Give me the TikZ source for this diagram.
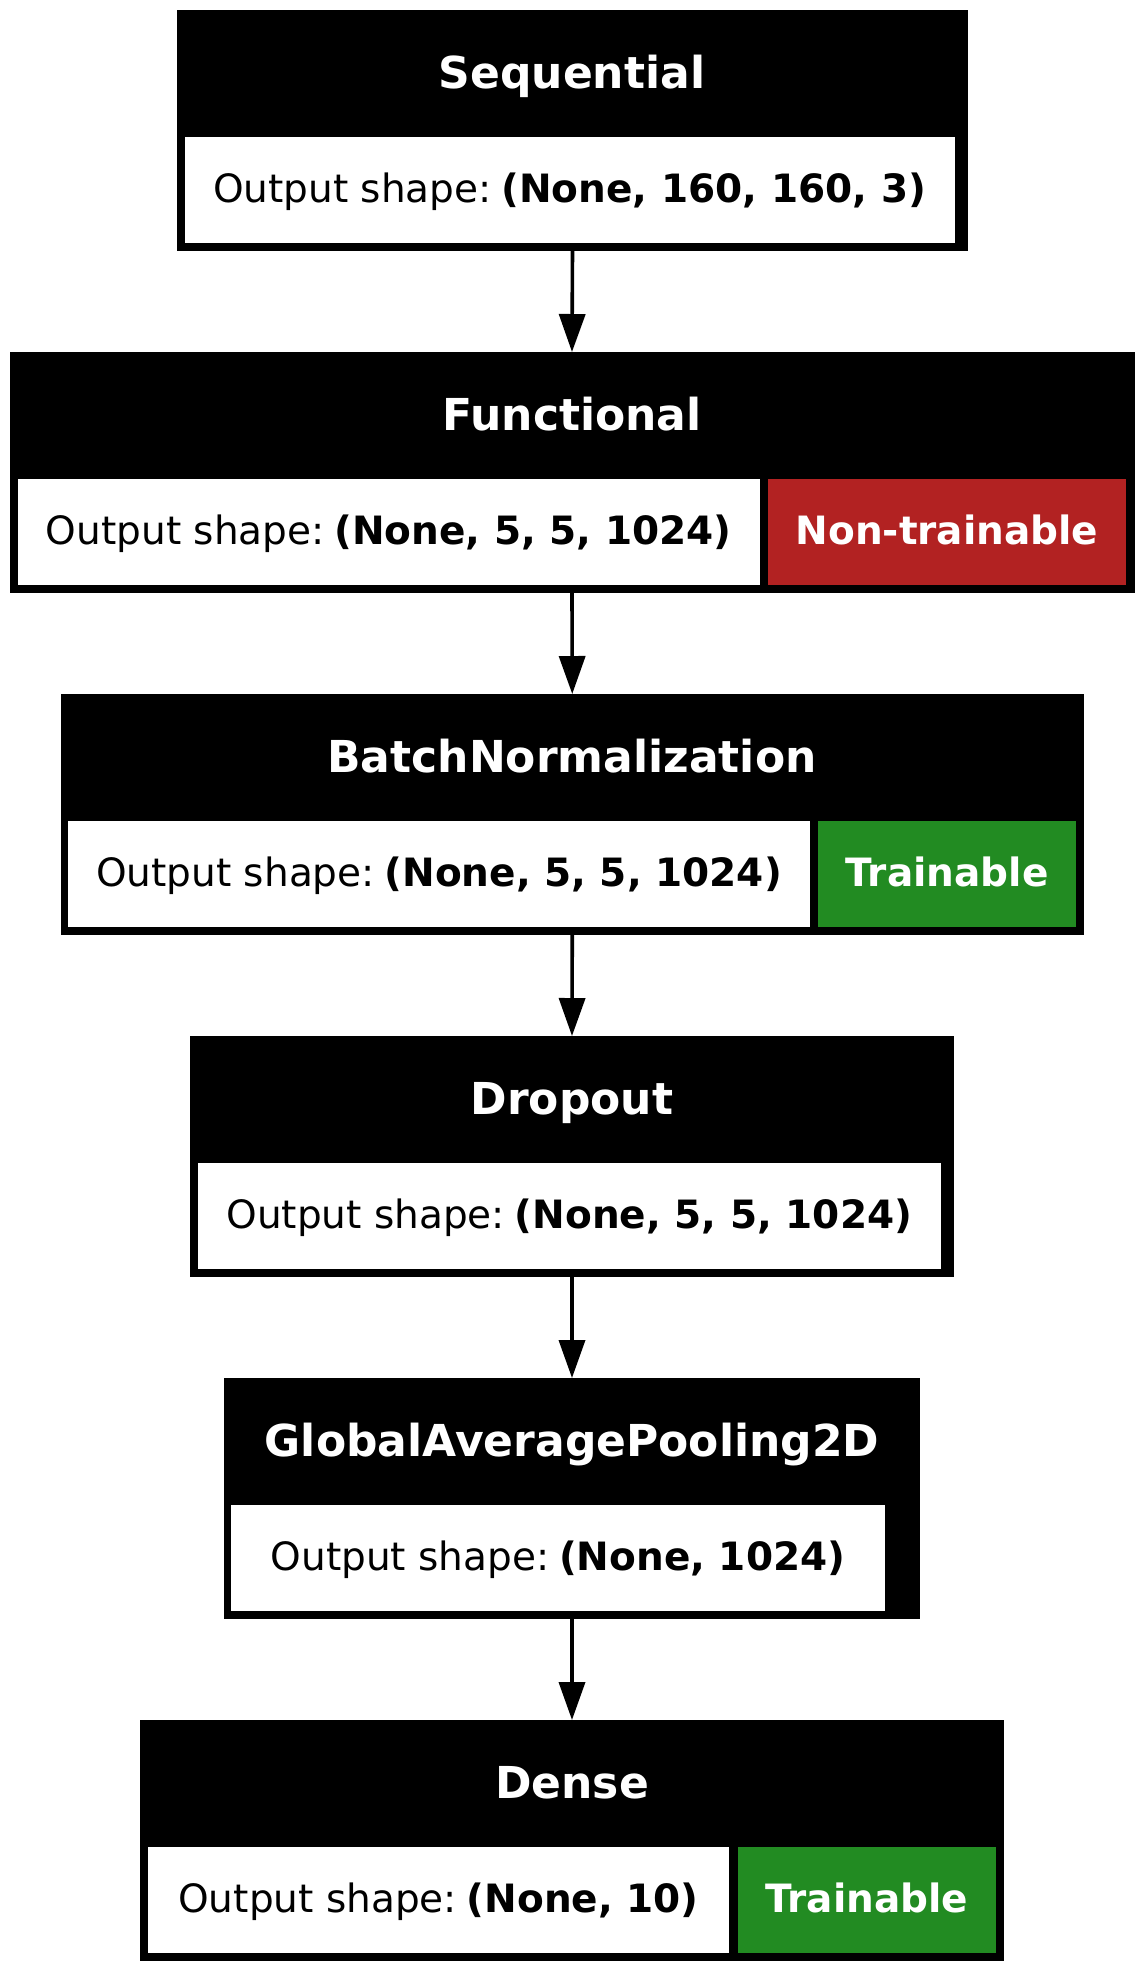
\documentclass[tikz,border=0pt]{standalone}
\usepackage{fontspec}
\setmainfont{DejaVu Sans}
\usetikzlibrary{arrows.meta}

\definecolor{frozenred}{HTML}{B22222}
\definecolor{traingreen}{HTML}{228B22}

\begin{document}
\begin{tikzpicture}[
    x=0.5pt, y=-0.5pt,
    layer/.style={fill=black, inner sep=0pt, outer sep=0pt, anchor=north west, minimum height=120.5pt},
    layername/.style={text=white, anchor=base, inner sep=0pt, font=\fontsize{22}{26}\selectfont\bfseries},
    outcell/.style={fill=white, inner sep=0pt, outer sep=0pt, anchor=north west, minimum height=53pt,
        text height=12pt, text depth=0pt, font=\fontsize{19.5}{23}\selectfont},
    trainable/.style={outcell, fill=traingreen, text=white, font=\fontsize{19.5}{23}\selectfont\bfseries},
    frozen/.style={outcell, fill=frozenred, text=white, font=\fontsize{19.5}{23}\selectfont\bfseries},
    flow/.style={-{Triangle[length=19pt, width=13pt]}, line width=1.8pt}
]
\useasboundingbox (0,0) rectangle (1144,1972);

% Layers
\node[layer, minimum width=395.5pt] (sequential) at (177,10) {};
\node[layername] (sequentialname) at (572,88) {Sequential};
\node[outcell, minimum width=385pt] (sequentialout) at (184.5,137) {Output shape:\hspace{0.25em}\textbf{(None, 160, 160, 3)}};

\node[layer, minimum width=562.5pt] (functional) at (9.5,352) {};
\node[layername] (functionalname) at (572,430) {Functional};
\node[outcell, minimum width=371.25pt] (functionalout) at (17.5,479) {Output shape:\hspace{0.25em}\textbf{(None, 5, 5, 1024)}};
\node[frozen, minimum width=179pt] (functionaltrain) at (768,479) {Non-trainable};

\node[layer, minimum width=511.75pt] (batchnorm) at (60.5,694) {};
\node[layername] (batchnormname) at (572,772) {BatchNormalization};
\node[outcell, minimum width=371pt] (batchnormout) at (68,821) {Output shape:\hspace{0.25em}\textbf{(None, 5, 5, 1024)}};
\node[trainable, minimum width=129pt] (batchnormtrain) at (818,821) {Trainable};

\node[layer, minimum width=382pt] (dropout) at (190,1036) {};
\node[layername] (dropoutname) at (572,1114) {Dropout};
\node[outcell, minimum width=371.25pt] (dropoutout) at (198,1163) {Output shape:\hspace{0.25em}\textbf{(None, 5, 5, 1024)}};

\node[layer, minimum width=348pt] (pooling) at (224,1378) {};
\node[layername] (poolingname) at (572,1456) {GlobalAveragePooling2D};
\node[outcell, minimum width=327pt] (poolingout) at (231,1505) {Output shape:\hspace{0.25em}\textbf{(None, 1024)}};

\node[layer, minimum width=432pt] (dense) at (140,1720) {};
\node[layername] (densename) at (572,1798) {Dense};
\node[outcell, minimum width=290.5pt] (denseout) at (148,1847) {Output shape:\hspace{0.25em}\textbf{(None, 10)}};
\node[trainable, minimum width=129.2pt] (densetrain) at (737.6,1847) {Trainable};

% Edges
\draw[flow] (sequential.south) -- (functional.north);
\draw[flow] (functional.south) -- (batchnorm.north);
\draw[flow] (batchnorm.south) -- (dropout.north);
\draw[flow] (dropout.south) -- (pooling.north);
\draw[flow] (pooling.south) -- (dense.north);

\end{tikzpicture}
\end{document}
